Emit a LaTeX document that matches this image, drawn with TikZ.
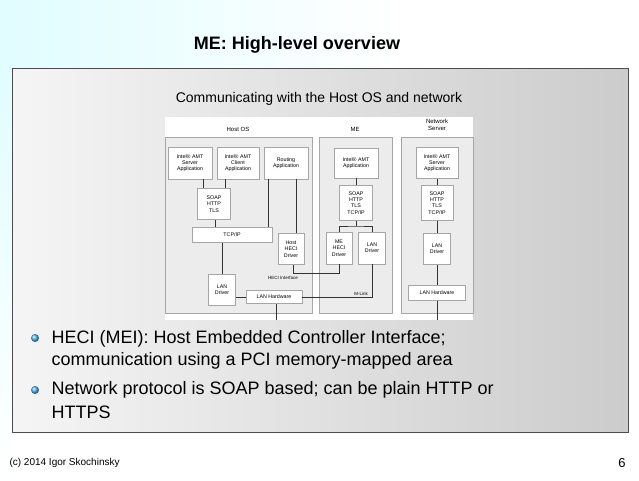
\documentclass[tikz,border=0pt]{standalone}
\usepackage{fontspec}
\setmainfont{Liberation Sans}
\usetikzlibrary{positioning}

\begin{document}
\begin{tikzpicture}[x=1pt,y=-1pt,
	blk/.style={draw=gray!70, fill=white, line width=0.6pt, inner sep=0pt, align=center, font=\fontsize{5.3}{6.2}\selectfont},
	grp/.style={draw=gray!70, fill=gray!15, line width=0.6pt},
	wire/.style={draw=gray!40!black, line width=0.8pt},
	btext/.style={anchor=west, font=\fontsize{18}{20}\selectfont}]

	% Background
	\useasboundingbox (0,0) rectangle (639,480);
	\fill[white] (0,0) rectangle (639,480);
	\shade[left color=blue!8!cyan!12, right color=white] (0,0) rectangle (400,70);
	\shade[top color=blue!8!cyan!12, bottom color=white] (0,70) rectangle (12,480);
	\node (title) at (297,45) {\fontsize{18}{20}\selectfont\bfseries ME: High-level overview};

	% Panel
	\shade[draw=gray!60!black, left color=gray!8, right color=gray!40] (12,68) rectangle (628,432);
	\node (sub) at (319,99) {\fontsize{14}{16}\selectfont Communicating with the Host OS and network};
	\fill[white] (165,117) rectangle (473,320);

	% Groups
	\draw[grp] (165,137) rectangle (312,313);
	\draw[grp] (319,137) rectangle (392,313);
	\draw[grp] (401,137) rectangle (473,313);
	\node[font=\fontsize{6}{7}\selectfont] (hostos) at (238,129) {Host OS};
	\node[font=\fontsize{6}{7}\selectfont] (melbl) at (355,129) {ME};
	\node[font=\fontsize{6}{6.5}\selectfont, align=center] (nslbl) at (437,125) {Network\\Server};

	% Host OS
	\node[blk, minimum width=44, minimum height=32] (hsrv) at (190,163) {Intel® AMT\\Server\\Application};
	\node[blk, minimum width=42, minimum height=32] (hcli) at (238,163) {Intel® AMT\\Client\\Application};
	\node[blk, minimum width=44, minimum height=32] (hrout) at (286,163) {Routing\\Application};
	\node[blk, minimum width=33, minimum height=31] (hsoap) at (214,204) {SOAP\\HTTP\\TLS};
	\node[blk, minimum width=80, minimum height=15] (htcp) at (232,235) {TCP/IP};
	\node[blk, minimum width=26, minimum height=31] (hheci) at (291,249) {Host\\HECI\\Driver};
	\node[blk, minimum width=27, minimum height=31] (hlan) at (222,290) {LAN\\Driver};
	\node[blk, minimum width=56, minimum height=13] (hhw) at (274,297) {LAN Hardware};

	% ME
	\node[blk, minimum width=44, minimum height=30] (mapp) at (356,163) {Intel® AMT\\Application};
	\node[blk, minimum width=33, minimum height=35] (msoap) at (356,203) {SOAP\\HTTP\\TLS\\TCP/IP};
	\node[blk, minimum width=26, minimum height=32] (mheci) at (339,248) {ME\\HECI\\Driver};
	\node[blk, minimum width=27, minimum height=32] (mlan) at (372,248) {LAN\\Driver};

	% Network Server
	\node[blk, minimum width=42, minimum height=31] (nsrv) at (437,163) {Intel® AMT\\Server\\Application};
	\node[blk, minimum width=32, minimum height=35] (nsoap) at (437,203) {SOAP\\HTTP\\TLS\\TCP/IP};
	\node[blk, minimum width=27, minimum height=31] (nlan) at (437,249) {LAN\\Driver};
	\node[blk, minimum width=57, minimum height=15] (nhw) at (437,293) {LAN Hardware};

	% Connectors
	\draw[wire] (hsrv.south -| 203,0) -- (hsoap.north -| 203,0);
	\draw[wire] (hcli.south -| 225,0) -- (hsoap.north -| 225,0);
	\draw[wire] (hsoap.south -| 215,0) -- (htcp.north -| 215,0);
	\draw[wire] (hrout.south -| 268,0) -- (htcp.north -| 268,0);
	\draw[wire] (hrout.south -| 296,0) -- (hheci.north -| 296,0);
	\draw[wire] (htcp.south -| 222,0) -- (hlan.north);
	\draw[wire] (hlan.east |- hhw.west) -- (hhw.west);
	\draw[wire] (hheci.south -| 293,0) |- (339,273) -- (mheci.south);
	\draw[wire] (mapp) -- (msoap);
	\draw[wire] (msoap.south) -- (356,226);
	\draw[wire] (mheci.north) |- (356,226) -| (mlan.north);
	\draw[wire] (hhw.east) -| (mlan.south);
	\coordinate (hend) at (276,320);
	\coordinate (nend) at (437,320);
	\draw[wire] (hhw.south -| hend) -- (hend);
	\draw[wire] (nsrv) -- (nsoap);
	\draw[wire] (nsoap) -- (nlan);
	\draw[wire] (nlan) -- (nhw);
	\draw[wire] (nhw) -- (nend);
	\node[font=\fontsize{4.5}{5}\selectfont] (hecilbl) at (283,278) {HECI Interface};
	\node[font=\fontsize{4.5}{5}\selectfont] (mlink) at (361,294) {M-Link};

	% Bullets
	\shade[ball color=blue!40!cyan!70] (35,338) circle (4);
	\shade[ball color=blue!40!cyan!70] (35,390) circle (4);
	\node[btext] (b1) at (48,339) {HECI (MEI): Host Embedded Controller Interface;};
	\node[btext] (b1b) at (48,361) {communication using a PCI memory-mapped area};
	\node[btext] (b2) at (48,390) {Network protocol is SOAP based; can be plain HTTP or};
	\node[btext] (b2b) at (48,412) {HTTPS};

	% Footer
	\node[anchor=west, font=\fontsize{10}{12}\selectfont] (foot) at (6,463) {(c) 2014 Igor Skochinsky};
	\node[font=\fontsize{13}{14}\selectfont] (page) at (622,463) {6};
\end{tikzpicture}
\end{document}
